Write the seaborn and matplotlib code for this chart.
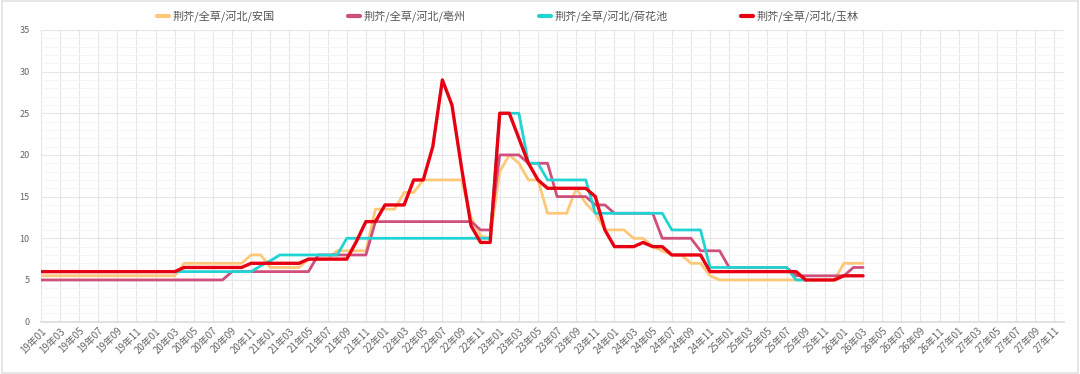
import pandas as pd
import numpy as np
import matplotlib
matplotlib.use('Agg')
import matplotlib.pyplot as plt
from matplotlib.lines import Line2D
from matplotlib.patches import Rectangle
from matplotlib.ticker import MultipleLocator
import seaborn as sns

sns.set_theme(style='white')
plt.rcParams['font.family'] = ['Noto Sans CJK SC', 'DejaVu Sans']

# month categories 19年01 .. 27年12
months = [f'{y}年{m:02d}' for y in range(19, 28) for m in range(1, 13)]

anguo = ([5.5] * 15 + [7] * 7 + [8] * 2 + [6.5] * 4 + [7.5] * 3 + [8.5] * 4 + [13.5] * 3 + [15.5] * 2
         + [17] * 5 + [12.5, 10.3, 10, 18, 20, 19] + [17] * 2 + [13] * 3 + [16, 14.2, 13] + [11] * 3
         + [10] * 2 + [9, 8.5] + [8] * 2 + [7] * 2 + [5.5] + [5] * 13 + [7] * 3)
bozhou = ([5] * 20 + [6] * 9 + [8] * 6 + [12] * 11 + [11] * 2 + [20] * 3 + [19] * 3 + [15] * 4
          + [14] * 2 + [13] * 5 + [10] * 4 + [8.5] * 3 + [6.5] * 7 + [5.5] * 6 + [6.5] * 2)
hehuachi = ([6] * 23 + [6.7, 7.3] + [8] * 7 + [10] * 16 + [25] * 3 + [19] * 2 + [17] * 5 + [13] * 8
            + [11] * 4 + [6.5] * 9 + [5] * 2)
yulin = ([6] * 15 + [6.5] * 7 + [7] * 6 + [7.5] * 5 + [9.6] + [12] * 2 + [14] * 3 + [17] * 2
         + [21, 29, 26, 18.5, 11.5] + [9.5] * 2 + [25] * 2 + [22, 19, 17] + [16] * 5 + [15, 11]
         + [9] * 3 + [9.5] + [9] * 2 + [8] * 4 + [6] * 10 + [5] * 4 + [5.5] * 3)

names = ['荆芥/全草/河北/安国', '荆芥/全草/河北/亳州', '荆芥/全草/河北/荷花池', '荆芥/全草/河北/玉林']
series = [anguo, bozhou, hehuachi, yulin]
colors = ['#fdc87a', '#cf4f7c', '#22d3d3', '#e60012']
widths = [2.0, 2.0, 2.0, 2.4]

rows = []
for name, vals in zip(names, series):
    for i, v in enumerate(vals):
        rows.append({'idx': i, 'price': v, 'series': name})
df = pd.DataFrame(rows)

fig = plt.figure(figsize=(10.8, 3.74), dpi=100)
ax = fig.add_axes([0.0378, 0.14, 0.985 - 0.0378, 0.92 - 0.14])

for name, c, w in zip(names, colors, widths):
    sns.lineplot(data=df[df.series == name], x='idx', y='price', color=c, linewidth=w, ax=ax)

ax.set_xlim(0, 107)
ax.set_ylim(0, 35)
ax.set_xticks(range(0, 108, 2))
ax.set_xticklabels(months[::2], rotation=45, ha='right', rotation_mode='anchor', fontsize=7, color='#666666')
ax.yaxis.set_major_locator(MultipleLocator(5))
ax.yaxis.set_minor_locator(MultipleLocator(1))
ax.tick_params(axis='y', labelsize=6.5, labelcolor='#666666', length=0, pad=8)
ax.tick_params(axis='x', length=0, pad=3)
ax.tick_params(which='minor', length=0)
ax.grid(True, which='major', color='#e6e6e6', linewidth=0.8)
ax.grid(True, which='minor', axis='y', color='#f4f4f4', linewidth=0.6)
ax.set_axisbelow(True)
for s in ['left', 'top', 'right']:
    ax.spines[s].set_visible(False)
ax.spines['bottom'].set_color('#dddddd')
ax.set(xlabel='', ylabel='')

handles = [Line2D([], [], color=c, linewidth=3) for c in colors]
fig.legend(handles, names, loc='center', bbox_to_anchor=(0.47, 0.955), ncol=4, frameon=False,
           fontsize=8, handlelength=1.1, handletextpad=0.3, columnspacing=6.6, labelcolor='#555555')

fig.patches.append(Rectangle((0.002, 0.004), 0.996, 0.992, transform=fig.transFigure,
                             fill=False, edgecolor='#e2e2e2', linewidth=1.2))

fig.savefig('out.png', dpi=100)
